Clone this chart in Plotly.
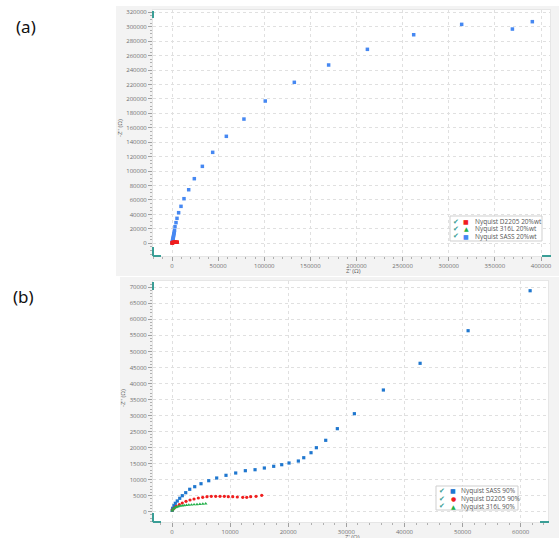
import plotly.graph_objects as go

W, H = 559, 538

# ---------------- data: panel (a) 20%wt ----------------
sass20_x = [150, 350, 550, 750, 950, 1150, 1400, 1650, 1900, 2150, 2450, 2750,
            3250, 4340, 5420, 7200, 9760, 13000, 18100, 24200, 32900, 44100,
            58900, 78000, 101100, 132600, 169800, 211800, 262000, 314000,
            369000, 390600]
sass20_y = [700, 1800, 3000, 4300, 5600, 7000, 8500, 10100, 11800, 13600, 15600, 17800,
            23000, 28600, 34600, 42400, 51200, 61800, 74200, 89500, 106600, 126000,
            148200, 172100, 197100, 223000, 247000, 268700, 288900, 303300,
            296800, 307000]
d2205_20_x = [80, 300, 650, 1100, 1700, 2400, 3200, 4100, 5000, 5700]
d2205_20_y = [300, 700, 1000, 1250, 1400, 1500, 1550, 1550, 1500, 1600]
s316_20_x = [60, 200, 450, 800, 1300, 1900, 2600]
s316_20_y = [150, 350, 550, 700, 800, 900, 950]

# ---------------- data: panel (b) 90% ----------------
sass90_x = [30, 110, 340, 570, 910, 1330, 1770, 2360, 3050, 3910, 4990, 6320, 7690,
            9290, 10960, 12620, 14290, 15890, 17500, 18880, 20140, 21740, 22670,
            23920, 24840, 26450, 28450, 31380, 36370, 42690, 50950, 61620]
sass90_y = [400, 1060, 1870, 2620, 3340, 4180, 4990, 5930, 6990, 7800, 8730, 9670, 10510,
            11350, 12070, 12790, 13100, 13630, 14160, 14660, 15190, 15810, 16840,
            18400, 19960, 22270, 25900, 30570, 37960, 46290, 56460, 68930]
d2205_90_x = [50, 340, 740, 1260, 1770, 2410, 3100, 3790, 4530, 5280, 6020, 6760, 7520,
              8260, 9000, 9690, 10450, 11240, 12170, 12860, 13540, 14460, 15440]
d2205_90_y = [530, 1060, 1680, 2180, 2710, 3240, 3650, 3960, 4270, 4490, 4680, 4800, 4800,
              4800, 4800, 4680, 4680, 4590, 4490, 4490, 4680, 4800, 5110]
s316_90_x = [30, 120, 250, 420, 620, 850, 1100, 1400, 1750, 2100, 2500, 2900, 3350,
             3800, 4300, 4800, 5300, 5800]
s316_90_y = [300, 600, 900, 1150, 1350, 1520, 1650, 1780, 1880, 1960, 2030, 2100, 2170,
             2230, 2300, 2370, 2430, 2500]

legend_a = ["Nyquist D2205 20%wt", "Nyquist 316L 20%wt", "Nyquist SASS 20%wt"]
legend_b = ["Nyquist SASS 90%", "Nyquist D2205 90%", "Nyquist 316L 90%"]

BLUE_A = "#4688f2"
BLUE_B = "#1f77cf"
RED = "#f01e1e"
GREEN = "#23b04a"
TEAL = "#3a9e96"


def px(x):
    return x / W


def py(y):
    return 1 - y / H


fig = go.Figure()

# panel (a)
fig.add_trace(go.Scatter(x=s316_20_x, y=s316_20_y, mode="markers", xaxis="x", yaxis="y",
                         marker=dict(symbol="triangle-up", size=3.5, color=GREEN), name=legend_a[1]))
fig.add_trace(go.Scatter(x=sass20_x, y=sass20_y, mode="markers", xaxis="x", yaxis="y",
                         marker=dict(symbol="square", size=3.5, color=BLUE_A), name=legend_a[2]))
fig.add_trace(go.Scatter(x=d2205_20_x, y=d2205_20_y, mode="markers", xaxis="x", yaxis="y",
                         marker=dict(symbol="square", size=3.5, color=RED), name=legend_a[0]))
# panel (b)
fig.add_trace(go.Scatter(x=sass90_x, y=sass90_y, mode="markers", xaxis="x2", yaxis="y2",
                         marker=dict(symbol="square", size=3.2, color=BLUE_B), name=legend_b[0]))
fig.add_trace(go.Scatter(x=d2205_90_x, y=d2205_90_y, mode="markers", xaxis="x2", yaxis="y2",
                         marker=dict(symbol="circle", size=3.2, color=RED), name=legend_b[1]))
fig.add_trace(go.Scatter(x=s316_90_x, y=s316_90_y, mode="markers", xaxis="x2", yaxis="y2",
                         marker=dict(symbol="triangle-up", size=3.2, color=GREEN), name=legend_b[2]))

tickfont = dict(family="Open Sans", size=6, color="#707070")
common = dict(showgrid=True, gridcolor="#e0e0e0", griddash="dot", gridwidth=1,
              zeroline=False, ticks="outside", ticklen=4, tickcolor="#a0a0a0",
              tickfont=tickfont, tickformat="d", automargin=False,
              showline=True, linecolor="#e6e6e6", mirror=True)

fig.update_layout(
    width=W, height=H, margin=dict(l=0, r=0, t=0, b=0),
    paper_bgcolor="white", plot_bgcolor="rgba(0,0,0,0)", showlegend=False,
    xaxis=dict(domain=[px(153), px(550)], anchor="y", range=[-20596, 409756],
               tick0=0, dtick=50000,
               minor=dict(dtick=10000, ticks="outside", ticklen=2, tickcolor="#b0b0b0", showgrid=False),
               **common),
    yaxis=dict(domain=[py(256), py(10)], anchor="x", range=[-17593, 323186],
               tick0=0, dtick=20000,
               minor=dict(dtick=5000, ticks="outside", ticklen=2, tickcolor="#b0b0b0", showgrid=False),
               **common),
    xaxis2=dict(domain=[px(153), px(548)], anchor="y2", range=[-3269, 64697],
                tick0=0, dtick=10000,
                minor=dict(dtick=2000, ticks="outside", ticklen=2, tickcolor="#b0b0b0", showgrid=False),
                **common),
    yaxis2=dict(domain=[py(522), py(281)], anchor="x2", range=[-3213, 71965],
                tick0=0, dtick=5000,
                minor=dict(dtick=1000, ticks="outside", ticklen=2, tickcolor="#b0b0b0", showgrid=False),
                **common),
)

shapes = []
# grey panels
shapes.append(dict(type="rect", xref="paper", yref="paper", layer="below",
                   x0=px(116), x1=px(559), y0=py(276), y1=py(6),
                   fillcolor="#f3f3f3", line=dict(width=0)))
shapes.append(dict(type="rect", xref="paper", yref="paper", layer="below",
                   x0=px(120), x1=px(559), y0=py(538), y1=py(277),
                   fillcolor="#f3f3f3", line=dict(width=0)))
# white plot areas
shapes.append(dict(type="rect", xref="paper", yref="paper", layer="below",
                   x0=px(153), x1=px(550), y0=py(256), y1=py(10),
                   fillcolor="white", line=dict(width=0)))
shapes.append(dict(type="rect", xref="paper", yref="paper", layer="below",
                   x0=px(153), x1=px(548), y0=py(522), y1=py(281),
                   fillcolor="white", line=dict(width=0)))


def teal_line(x0, y0, x1, y1):
    shapes.append(dict(type="line", xref="paper", yref="paper", layer="above",
                       x0=px(x0), x1=px(x1), y0=py(y0), y1=py(y1),
                       line=dict(color=TEAL, width=2)))


# corner handles (a)
teal_line(153, 11, 153, 18)
teal_line(153, 247, 153, 256)
teal_line(153, 256, 161, 256)
teal_line(542, 256, 551, 256)
# corner handles (b)
teal_line(153, 282, 153, 290)
teal_line(153, 513, 153, 522)
teal_line(153, 522, 161, 522)
teal_line(540, 522, 549, 522)

# legend boxes
shapes.append(dict(type="rect", xref="paper", yref="paper", layer="above",
                   x0=px(450), x1=px(542), y0=py(241), y1=py(216),
                   fillcolor="white", line=dict(color="#cfcfcf", width=1)))
shapes.append(dict(type="rect", xref="paper", yref="paper", layer="above",
                   x0=px(436), x1=px(518), y0=py(510), y1=py(486),
                   fillcolor="white", line=dict(color="#cfcfcf", width=1)))

annotations = []


def txt(x, y, s, size=6, color="#606060", xanchor="center", angle=0, family="Open Sans"):
    annotations.append(dict(xref="paper", yref="paper", x=px(x), y=py(y), text=s,
                            showarrow=False, xanchor=xanchor, yanchor="middle",
                            textangle=angle, font=dict(family=family, size=size, color=color)))


# legend (a)
rows_a = [221.5, 228.8, 236.0]
sym_a = [("■", RED), ("▲", GREEN), ("■", BLUE_A)]
for r, (s, c), lab in zip(rows_a, sym_a, legend_a):
    txt(456, r, "✔", size=7, color=TEAL, family="DejaVu Sans")
    txt(466, r, s, size=6, color=c, family="DejaVu Sans")
    txt(473, r, lab, size=6.5, color="#555555", xanchor="left")

# legend (b)
rows_b = [490.5, 498.5, 506.0]
sym_b = [("■", BLUE_B), ("●", RED), ("▲", GREEN)]
for r, (s, c), lab in zip(rows_b, sym_b, legend_b):
    txt(442, r, "✔", size=7, color=TEAL, family="DejaVu Sans")
    txt(453, r, s, size=6, color=c, family="DejaVu Sans")
    txt(459, r, lab, size=6.5, color="#555555", xanchor="left")

# axis titles
txt(120, 128, "-Z'' (Ω)", size=6, angle=-90)
txt(353, 270.5, "Z' (Ω)", size=6)
txt(123, 398, "-Z'' (Ω)", size=6, angle=-90)
txt(352, 537, "Z' (Ω)", size=6)

# panel labels
txt(26, 27, "(a)", size=17, color="#111111", family="Noto Sans")
txt(23, 296, "(b)", size=17, color="#111111", family="Noto Sans")

fig.update_layout(shapes=shapes, annotations=annotations)

fig.write_html("out.html", config={"displayModeBar": False},
               post_script="document.body.style.margin='0';document.body.style.overflow='hidden';")
